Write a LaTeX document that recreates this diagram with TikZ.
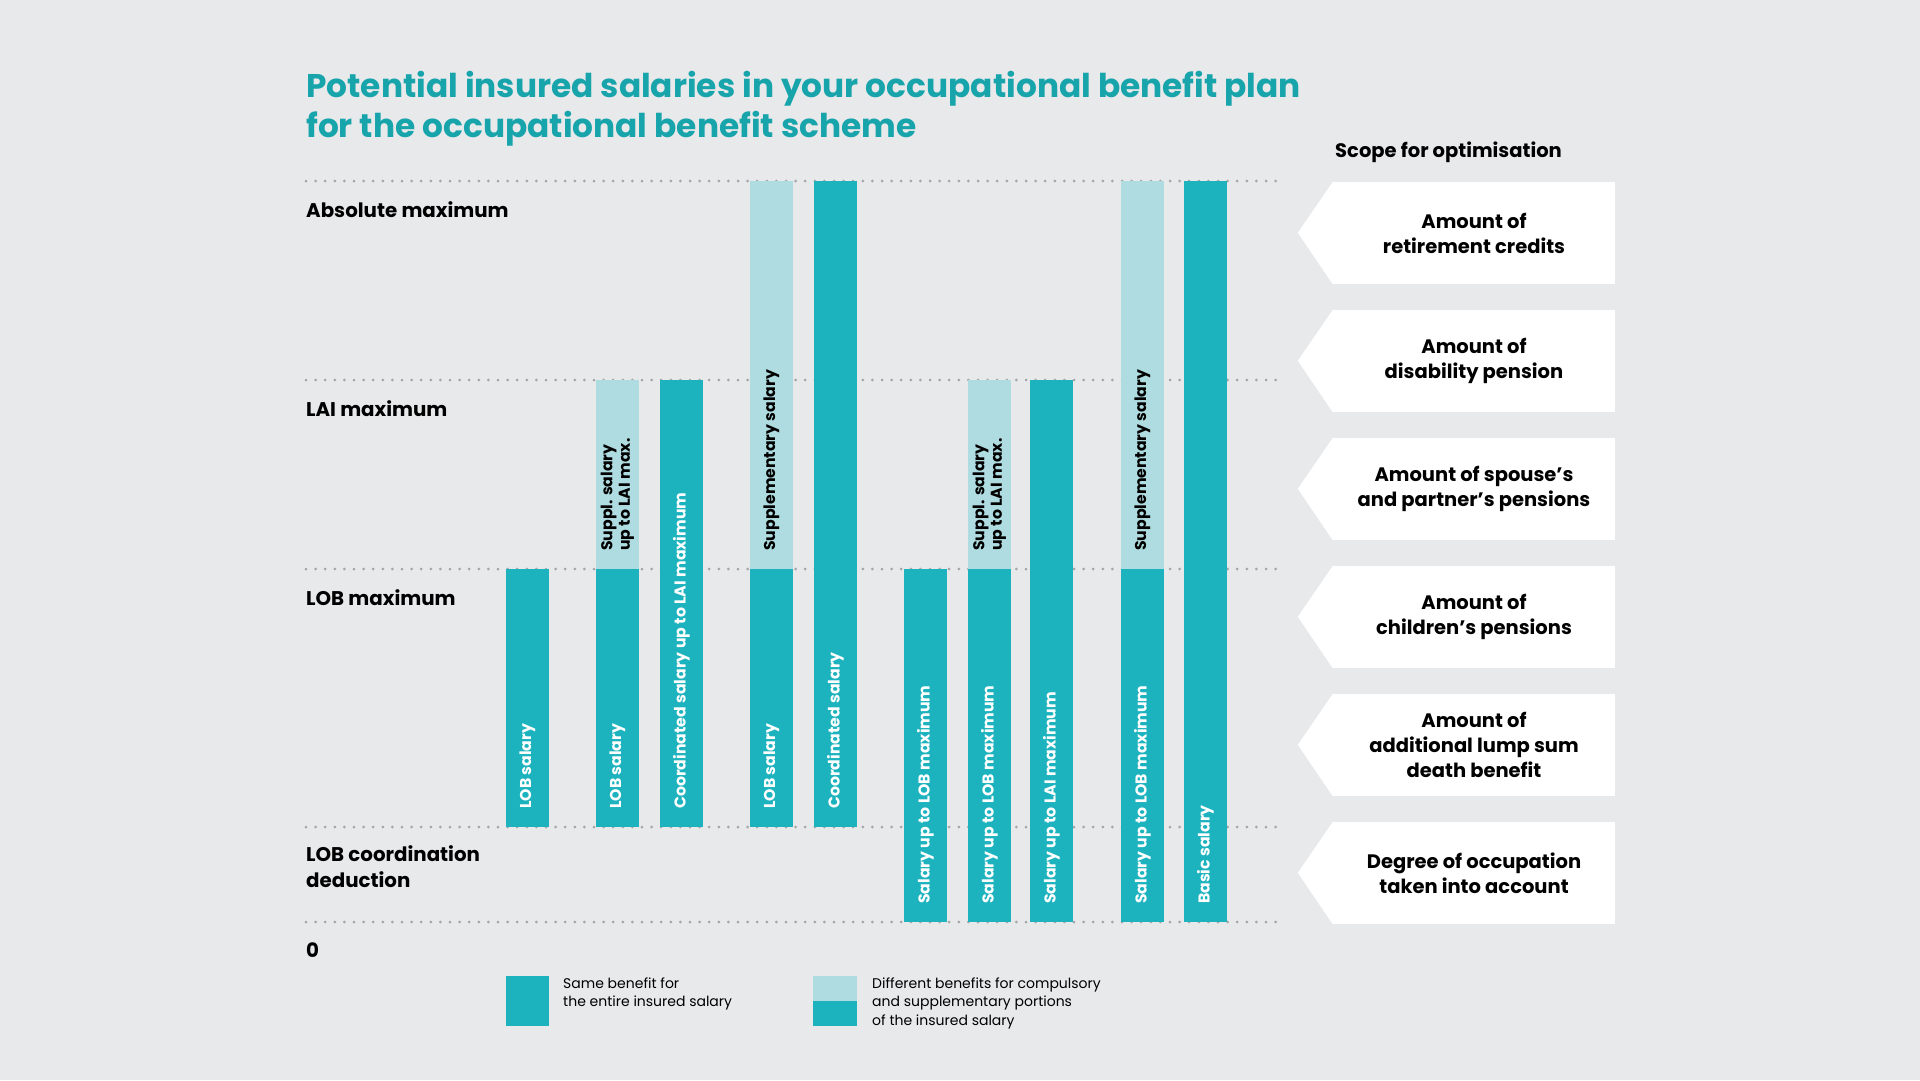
\documentclass[tikz,border=0pt]{standalone}
\usepackage{fontspec}
\setmainfont{Poppins}
\usepackage{tikz}
\usetikzlibrary{positioning}

\definecolor{bgGrey}{HTML}{E8E9EB}
\definecolor{barDark}{HTML}{1CB3BE}
\definecolor{barLight}{HTML}{AFDCE1}
\definecolor{titleTeal}{HTML}{17A4AB}
\definecolor{dotGrey}{HTML}{A3A5A8}

\begin{document}
\begin{tikzpicture}[x=1pt, y=-1pt,
    axislabel/.style={anchor=base west, inner sep=0pt, align=left, font=\bfseries\fontsize{19.8}{26}\selectfont},
    barlabel/.style={rotate=90, anchor=west, inner sep=0pt, align=left, text=white, font=\bfseries\fontsize{15.7}{17.5}\selectfont},
    lightlabel/.style={barlabel, text=black},
    scopebox/.style={fill=white, minimum width=282pt, minimum height=102pt, inner sep=0pt, align=center, font=\bfseries\fontsize{19.5}{25}\selectfont},
    legendtext/.style={anchor=base west, inner sep=0pt, align=left, font=\fontsize{14}{18.5}\selectfont},
    dotline/.style={dotGrey, line width=3pt, line cap=round, dash pattern=on 0pt off 9.6pt},
    dark/.style={fill=barDark}, light/.style={fill=barLight}]

    % Background and frame
    \fill[bgGrey] (0,0) rectangle (1920,1080);
    \useasboundingbox (0,0) rectangle (1920,1080);

    % Title (base = last line)
    \node[anchor=base west, inner sep=0pt, align=left, text=titleTeal, font=\bfseries\fontsize{32.8}{40}\selectfont] (title) at (306,137)
        {Potential insured salaries in your occupational benefit plan\\for the occupational benefit scheme};

    % Dotted levels
    \draw[dotline] (306,181) -- (1277,181);
    \draw[dotline] (306,380) -- (1277,380);
    \draw[dotline] (306,569) -- (1277,569);
    \draw[dotline] (306,827) -- (1277,827);
    \draw[dotline] (306,922) -- (1277,922);

    % Level labels
    \node[axislabel] (absmax) at (306,217) {Absolute maximum};
    \node[axislabel] (laimax) at (306,416) {LAI maximum};
    \node[axislabel] (lobmax) at (306,605) {LOB maximum};
    \node[axislabel] (lobded) at (306,887) {LOB coordination\\deduction};
    \node[axislabel] (zero) at (306,957) {0};

    % Bars, left group
    \fill[dark] (506,569) rectangle (549,827);
    \fill[dark] (596,569) rectangle (639,827);
    \fill[light] (596,380) rectangle (639,569);
    \fill[dark] (660,380) rectangle (703,827);
    \fill[dark] (750,569) rectangle (793,827);
    \fill[light] (750,181) rectangle (793,569);
    \fill[dark] (814,181) rectangle (857,827);

    % Bars, right group
    \fill[dark] (904,569) rectangle (947,922);
    \fill[dark] (968,569) rectangle (1011,922);
    \fill[light] (968,380) rectangle (1011,569);
    \fill[dark] (1030,380) rectangle (1073,922);
    \fill[dark] (1121,569) rectangle (1164,922);
    \fill[light] (1121,181) rectangle (1164,569);
    \fill[dark] (1184,181) rectangle (1227,922);

    % Bar labels
    \node[barlabel] (lob1) at (527.5,809) {LOB salary};
    \node[barlabel] (lob2) at (617.5,809) {LOB salary};
    \node[lightlabel] (suppl2) at (617.5,551) {Suppl. salary\\up to LAI max.};
    \node[barlabel] (coord3) at (681.5,809) {Coordinated salary up to LAI maximum};
    \node[barlabel] (lob4) at (771.5,809) {LOB salary};
    \node[lightlabel] (suppl4) at (771.5,551) {Supplementary salary};
    \node[barlabel] (coord5) at (835.5,809) {Coordinated salary};
    \node[barlabel] (sal6) at (925.5,904) {Salary up to LOB maximum};
    \node[barlabel] (sal7) at (989.5,904) {Salary up to LOB maximum};
    \node[lightlabel] (suppl7) at (989.5,551) {Suppl. salary\\up to LAI max.};
    \node[barlabel] (sal8) at (1051.5,904) {Salary up to LAI maximum};
    \node[barlabel] (sal9) at (1142.5,904) {Salary up to LOB maximum};
    \node[lightlabel] (suppl9) at (1142.5,551) {Supplementary salary};
    \node[barlabel] (basic10) at (1205.5,904) {Basic salary};

    % Legend
    \fill[dark] (506,976) rectangle (549,1026);
    \node[legendtext] (same) at (563,1006.5) {Same benefit for\\the entire insured salary};
    \fill[light] (813,976) rectangle (857,1001);
    \fill[dark] (813,1001) rectangle (857,1026);
    \node[legendtext] (diff) at (872,1025) {Different benefits for compulsory\\and supplementary portions\\of the insured salary};

    % Scope for optimisation
    \node[anchor=base west, inner sep=0pt, font=\bfseries\fontsize{19.5}{25}\selectfont] (scope) at (1335,157) {Scope for optimisation};
    \node[scopebox] (retire) at (1474,233) {Amount of\\retirement credits};
    \node[scopebox] (disab) at (1474,361) {Amount of\\disability pension};
    \node[scopebox] (spouse) at (1474,489) {Amount of spouse’s\\and partner’s pensions};
    \node[scopebox] (child) at (1474,617) {Amount of\\children’s pensions};
    \node[scopebox] (lump) at (1474,745) {Amount of\\additional lump sum\\death benefit};
    \node[scopebox] (degree) at (1474,873) {Degree of occupation\\taken into account};
    \fill[white] (retire.north west) -- ++(-35,51) -- (retire.south west) -- cycle;
    \fill[white] (disab.north west) -- ++(-35,51) -- (disab.south west) -- cycle;
    \fill[white] (spouse.north west) -- ++(-35,51) -- (spouse.south west) -- cycle;
    \fill[white] (child.north west) -- ++(-35,51) -- (child.south west) -- cycle;
    \fill[white] (lump.north west) -- ++(-35,51) -- (lump.south west) -- cycle;
    \fill[white] (degree.north west) -- ++(-35,51) -- (degree.south west) -- cycle;

\end{tikzpicture}
\end{document}
